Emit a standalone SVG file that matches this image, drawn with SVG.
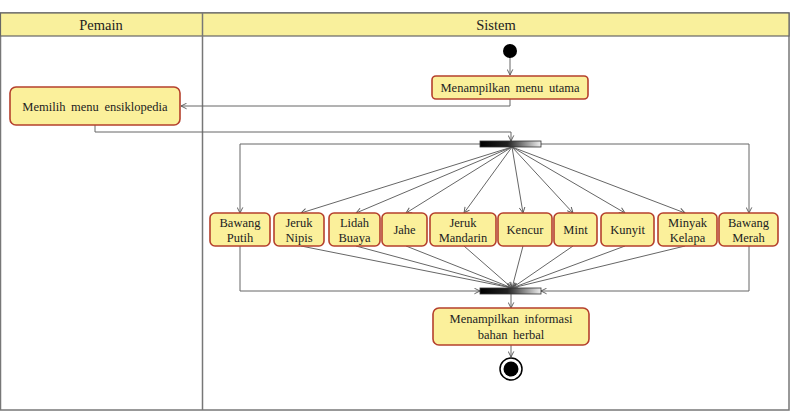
<svg xmlns="http://www.w3.org/2000/svg" width="793" height="414" viewBox="0 0 793 414">
<style>
.hdr{fill:#f9f09c;stroke:#666;stroke-width:1.2}
.lane{fill:none;stroke:#777;stroke-width:1.5}
.box{fill:#fbf09b;stroke:#b5402c;stroke-width:1.6}
.t{font-family:"Liberation Serif",serif;font-size:12.5px;fill:#222;text-anchor:middle;word-spacing:2.5px}
.th{font-family:"Liberation Serif",serif;font-size:14.5px;fill:#222;text-anchor:middle}
.c{fill:none;stroke:#666;stroke-width:1}
</style>
<defs>
<marker id="arr" viewBox="0 0 10 10" refX="9" refY="5" markerWidth="7" markerHeight="7" orient="auto" markerUnits="userSpaceOnUse">
<path d="M1,1 L9,5 L1,9" fill="none" stroke="#555" stroke-width="1.3"/>
</marker>
<linearGradient id="bar" x1="0" y1="0" x2="1" y2="0">
<stop offset="0" stop-color="#000"/>
<stop offset="0.45" stop-color="#222"/>
<stop offset="1" stop-color="#eee"/>
</linearGradient>
</defs>
<rect width="793" height="414" fill="#fff"/>
<g id="swimlanes">
<rect class="lane" x="0.5" y="13" width="788.5" height="397"/>
<rect class="hdr" x="0.5" y="13" width="788.5" height="23"/>
<line class="lane" x1="202.5" y1="13" x2="202.5" y2="410"/>
<text class="th" x="101" y="30">Pemain</text>
<text class="th" x="496" y="30">Sistem</text>
</g>
<g id="connectors">
<line class="c" x1="510" y1="58" x2="510" y2="75" marker-end="url(#arr)"/>
<polyline class="c" points="510,99 510,106 181,106" marker-end="url(#arr)"/>
<polyline class="c" points="95,125 95,132 511,132 511,141" marker-end="url(#arr)"/>
<polyline class="c" points="480,144 240,144 240,213" marker-end="url(#arr)"/>
<polyline class="c" points="541,144 749,144 749,213" marker-end="url(#arr)"/>
<line class="c" x1="512" y1="147" x2="301" y2="213" marker-end="url(#arr)"/>
<line class="c" x1="512" y1="147" x2="356" y2="213" marker-end="url(#arr)"/>
<line class="c" x1="512" y1="147" x2="406" y2="213" marker-end="url(#arr)"/>
<line class="c" x1="512" y1="147" x2="464" y2="213" marker-end="url(#arr)"/>
<line class="c" x1="512" y1="147" x2="523" y2="213" marker-end="url(#arr)"/>
<line class="c" x1="512" y1="147" x2="573" y2="213" marker-end="url(#arr)"/>
<line class="c" x1="512" y1="147" x2="625" y2="213" marker-end="url(#arr)"/>
<line class="c" x1="512" y1="147" x2="685" y2="213" marker-end="url(#arr)"/>
<line class="c" x1="301" y1="246" x2="512" y2="288" marker-end="url(#arr)"/>
<line class="c" x1="356" y1="246" x2="512" y2="288" marker-end="url(#arr)"/>
<line class="c" x1="406" y1="246" x2="512" y2="288" marker-end="url(#arr)"/>
<line class="c" x1="464" y1="246" x2="512" y2="288" marker-end="url(#arr)"/>
<line class="c" x1="523" y1="246" x2="512" y2="288" marker-end="url(#arr)"/>
<line class="c" x1="573" y1="246" x2="512" y2="288" marker-end="url(#arr)"/>
<line class="c" x1="625" y1="246" x2="512" y2="288" marker-end="url(#arr)"/>
<line class="c" x1="685" y1="246" x2="512" y2="288" marker-end="url(#arr)"/>
<polyline class="c" points="240,246 240,291 480,291" marker-end="url(#arr)"/>
<polyline class="c" points="749,246 749,291 541,291" marker-end="url(#arr)"/>
<line class="c" x1="511" y1="294" x2="511" y2="308" marker-end="url(#arr)"/>
<line class="c" x1="511" y1="345" x2="511" y2="357" marker-end="url(#arr)"/>
</g>
<g id="start"><circle cx="510" cy="51" r="7" fill="#000"/></g>
<g id="menu-utama">
<rect class="box" x="432" y="76" width="156" height="23" rx="4"/>
<text class="t" x="510" y="92">Menampilkan menu utama</text>
</g>
<g id="memilih">
<rect class="box" x="10" y="87" width="170" height="38" rx="6"/>
<text class="t" x="95" y="111">Memilih menu ensiklopedia</text>
</g>
<g id="fork"><rect x="480" y="141" width="61" height="6" fill="url(#bar)" stroke="#333" stroke-width="0.8"/></g>
<g id="bawang-putih">
<rect class="box" x="210" y="213" width="60" height="33" rx="5"/>
<text class="t" x="240" y="227">Bawang</text><text class="t" x="240" y="242">Putih</text>
</g>
<g id="jeruk-nipis">
<rect class="box" x="274" y="213" width="50" height="33" rx="5"/>
<text class="t" x="299" y="227">Jeruk</text><text class="t" x="299" y="242">Nipis</text>
</g>
<g id="lidah-buaya">
<rect class="box" x="329" y="213" width="51" height="33" rx="5"/>
<text class="t" x="354.5" y="227">Lidah</text><text class="t" x="354.5" y="242">Buaya</text>
</g>
<g id="jahe">
<rect class="box" x="382" y="213" width="45" height="33" rx="5"/>
<text class="t" x="404.5" y="234">Jahe</text>
</g>
<g id="jeruk-mandarin">
<rect class="box" x="430" y="213" width="66" height="33" rx="5"/>
<text class="t" x="463" y="227">Jeruk</text><text class="t" x="463" y="242">Mandarin</text>
</g>
<g id="kencur">
<rect class="box" x="498" y="213" width="54" height="33" rx="5"/>
<text class="t" x="525" y="234">Kencur</text>
</g>
<g id="mint">
<rect class="box" x="554" y="213" width="43" height="33" rx="5"/>
<text class="t" x="575.5" y="234">Mint</text>
</g>
<g id="kunyit">
<rect class="box" x="601" y="213" width="53" height="33" rx="5"/>
<text class="t" x="627.5" y="234">Kunyit</text>
</g>
<g id="minyak-kelapa">
<rect class="box" x="658" y="213" width="59" height="33" rx="5"/>
<text class="t" x="687.5" y="227">Minyak</text><text class="t" x="687.5" y="242">Kelapa</text>
</g>
<g id="bawang-merah">
<rect class="box" x="719" y="213" width="59" height="33" rx="5"/>
<text class="t" x="748.5" y="227">Bawang</text><text class="t" x="748.5" y="242">Merah</text>
</g>
<g id="join"><rect x="480" y="288" width="61" height="6" fill="url(#bar)" stroke="#333" stroke-width="0.8"/></g>
<g id="informasi">
<rect class="box" x="433" y="308" width="156" height="37" rx="6"/>
<text class="t" x="511" y="323">Menampilkan informasi</text><text class="t" x="511" y="339">bahan herbal</text>
</g>
<g id="end">
<circle cx="511" cy="369" r="11" fill="#fff" stroke="#000" stroke-width="1.5"/>
<circle cx="511" cy="369" r="7.5" fill="#000"/>
</g>
</svg>
